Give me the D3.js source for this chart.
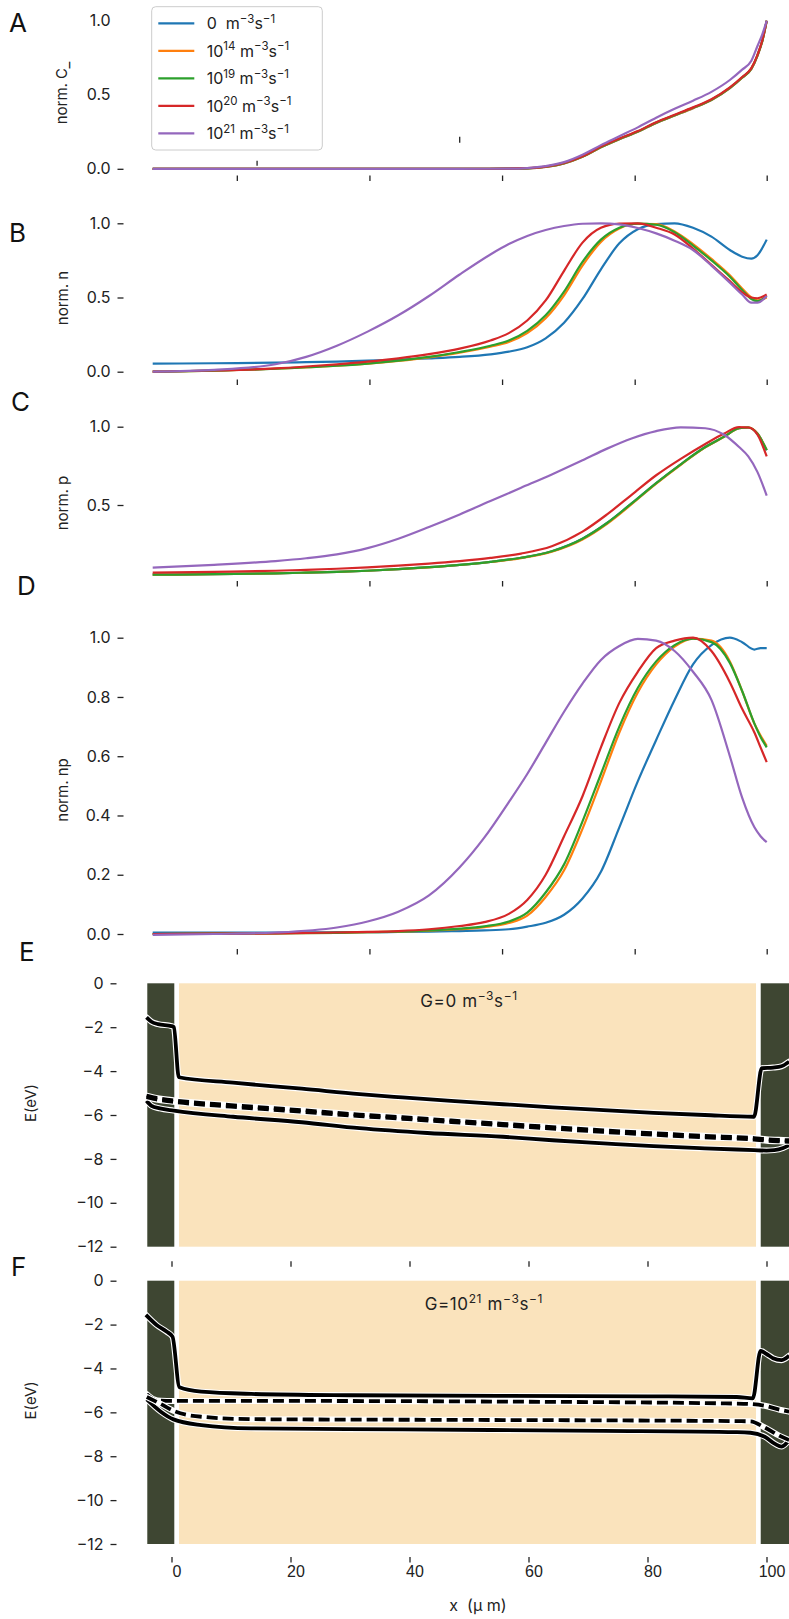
<!doctype html>
<html lang="en">
<head>
<meta charset="utf-8">
<title>normalised densities and band diagrams</title>
<script src="https://cdn.jsdelivr.net/npm/d3@7"></script>
<style>
    body { margin: 0; background: #fff; }
    svg { display: block; font-family: Inter, "DejaVu Sans", sans-serif; }
</style>
</head>
<body>
<svg></svg>
<script>
var width = 789;
var height = 1619;

var colors = ["#1f77b4", "#ff7f0e", "#2ca02c", "#d62728", "#9467bd"];
var genExponents = ["", "14", "19", "20", "21"];

// panel A: normalised C_
var xA = [0, 50, 58, 61, 64, 67, 70, 73, 76, 79, 82, 85, 88, 91, 94, 96, 97.5, 98.5, 99.3, 100];
var a0  = [0, 0, 0.001, 0.003, 0.013, 0.037, 0.082, 0.145, 0.2, 0.25, 0.31, 0.36, 0.41, 0.465, 0.545, 0.615, 0.675, 0.765, 0.865, 1.0];
var a14 = [0, 0, 0.001, 0.003, 0.013, 0.037, 0.082, 0.145, 0.2, 0.25, 0.31, 0.36, 0.41, 0.465, 0.545, 0.615, 0.675, 0.765, 0.865, 1.0];
var a19 = [0, 0, 0.001, 0.003, 0.014, 0.038, 0.083, 0.147, 0.202, 0.252, 0.312, 0.362, 0.412, 0.467, 0.547, 0.617, 0.677, 0.767, 0.867, 1.0];
var a20 = [0, 0, 0.001, 0.004, 0.015, 0.04, 0.085, 0.15, 0.205, 0.255, 0.315, 0.365, 0.415, 0.47, 0.55, 0.62, 0.68, 0.77, 0.87, 1.0];
var a21 = [0, 0, 0.001, 0.005, 0.018, 0.045, 0.095, 0.16, 0.22, 0.28, 0.345, 0.405, 0.46, 0.52, 0.6, 0.67, 0.73, 0.83, 0.91, 1.0];

// panel B: normalised n
var xB = [0, 10, 20, 25, 30, 35, 40, 45, 50, 55, 58, 61, 64, 67, 70, 73, 76, 79, 82, 85, 88, 91, 94, 96, 97.5, 98.5, 100];
var b0  = [0.054, 0.057, 0.061, 0.064, 0.068, 0.074, 0.082, 0.09, 0.1, 0.117, 0.135, 0.165, 0.225, 0.33, 0.49, 0.69, 0.865, 0.96, 0.995, 1.0, 0.97, 0.91, 0.82, 0.775, 0.762, 0.785, 0.89];
var b14 = [0, 0.007, 0.02, 0.029, 0.04, 0.054, 0.073, 0.097, 0.128, 0.168, 0.2, 0.26, 0.36, 0.515, 0.715, 0.875, 0.965, 0.997, 0.995, 0.945, 0.86, 0.76, 0.65, 0.56, 0.5, 0.48, 0.5];
var b19 = [0, 0.007, 0.02, 0.03, 0.04, 0.055, 0.075, 0.1, 0.133, 0.175, 0.21, 0.275, 0.38, 0.54, 0.74, 0.89, 0.97, 0.998, 0.99, 0.94, 0.85, 0.75, 0.64, 0.55, 0.49, 0.475, 0.51];
var b20 = [0, 0.008, 0.022, 0.035, 0.05, 0.068, 0.09, 0.118, 0.155, 0.21, 0.26, 0.345, 0.48, 0.68, 0.87, 0.97, 0.998, 1.0, 0.97, 0.925, 0.83, 0.72, 0.61, 0.535, 0.5, 0.495, 0.52];
var b21 = [0, 0.012, 0.05, 0.1, 0.175, 0.27, 0.38, 0.51, 0.655, 0.79, 0.86, 0.915, 0.955, 0.982, 0.997, 1.0, 0.993, 0.968, 0.932, 0.883, 0.82, 0.715, 0.6, 0.52, 0.465, 0.465, 0.51];

// panel C: normalised p
var xC = [0, 10, 20, 25, 30, 35, 40, 45, 50, 55, 60, 65, 70, 74, 78, 82, 86, 90, 93, 95.5, 97, 98.5, 100];
var c0  = [0.055, 0.058, 0.064, 0.068, 0.073, 0.08, 0.09, 0.103, 0.118, 0.137, 0.163, 0.205, 0.285, 0.385, 0.51, 0.64, 0.76, 0.87, 0.935, 0.99, 0.995, 0.955, 0.85];
var c14 = [0.055, 0.058, 0.064, 0.068, 0.073, 0.08, 0.09, 0.102, 0.117, 0.136, 0.161, 0.202, 0.28, 0.38, 0.505, 0.636, 0.757, 0.868, 0.934, 0.99, 0.996, 0.957, 0.852];
var c19 = [0.055, 0.058, 0.064, 0.068, 0.073, 0.08, 0.09, 0.103, 0.118, 0.137, 0.163, 0.205, 0.285, 0.385, 0.51, 0.64, 0.76, 0.87, 0.935, 0.99, 0.995, 0.955, 0.85];
var c20 = [0.068, 0.073, 0.08, 0.086, 0.093, 0.102, 0.113, 0.126, 0.142, 0.162, 0.19, 0.237, 0.33, 0.44, 0.565, 0.69, 0.795, 0.89, 0.955, 0.997, 0.995, 0.95, 0.81];
var c21 = [0.1, 0.118, 0.142, 0.16, 0.185, 0.225, 0.285, 0.36, 0.44, 0.525, 0.61, 0.695, 0.785, 0.86, 0.925, 0.972, 0.996, 0.99, 0.95, 0.87, 0.81, 0.71, 0.56];

// panel D: normalised np
var xD = [0, 10, 20, 30, 35, 40, 45, 50, 54, 58, 61, 64, 67, 70, 73, 76, 79, 82, 85, 88, 91, 94, 96, 98, 99, 100];
var d0  = [0.005, 0.005, 0.005, 0.006, 0.006, 0.007, 0.008, 0.01, 0.012, 0.016, 0.025, 0.038, 0.065, 0.12, 0.21, 0.36, 0.515, 0.655, 0.79, 0.91, 0.975, 1.0, 0.985, 0.96, 0.965, 0.965];
var d14 = [0, 0.001, 0.002, 0.004, 0.006, 0.008, 0.011, 0.016, 0.023, 0.037, 0.062, 0.125, 0.215, 0.355, 0.515, 0.68, 0.815, 0.91, 0.97, 0.997, 0.99, 0.92, 0.82, 0.71, 0.67, 0.635];
var d19 = [0, 0.001, 0.002, 0.004, 0.006, 0.008, 0.012, 0.018, 0.026, 0.042, 0.072, 0.14, 0.235, 0.38, 0.54, 0.7, 0.83, 0.92, 0.975, 0.997, 0.985, 0.915, 0.82, 0.71, 0.665, 0.63];
var d20 = [0, 0.001, 0.002, 0.005, 0.007, 0.01, 0.016, 0.027, 0.04, 0.068, 0.115, 0.2, 0.33, 0.465, 0.63, 0.78, 0.885, 0.965, 0.99, 1.0, 0.955, 0.85, 0.76, 0.68, 0.63, 0.58];
var d21 = [-0.003, 0, 0.005, 0.022, 0.042, 0.075, 0.13, 0.225, 0.325, 0.445, 0.54, 0.645, 0.75, 0.845, 0.925, 0.972, 0.996, 0.99, 0.955, 0.885, 0.79, 0.6, 0.46, 0.36, 0.33, 0.31];

// x ticks of panels A-D (unlabelled)
var xTicksAD = [13.7, 35.3, 56.9, 78.5, 100];
// two stray tick marks inside panel A: [x, yBottom, yTop]
var strayA = [[17.0, 0.02, 0.054], [50.0, 0.176, 0.216]];

// panels E/F: layers [start, end] in um
var layerStart = [-4.07, 1.26, 99.03];
var layerEnd = [0.47, 98.24, 106];
var layerColor = ["#3e4632", "#fae3bc", "#3e4632"];

// panel E: G = 0
var eEcX = [-4.2, -3.36, -2.25, 0, 0.39, 1.23, 10.35, 21.9, 31.6, 38.8, 47, 55.7, 64, 72.6, 81, 89.6, 97.9, 99.2, 101.1, 102.5, 103.8];
var eEc  = [-1.55, -1.75, -1.86, -1.95, -2.0, -4.28, -4.53, -4.8, -5.05, -5.2, -5.36, -5.51, -5.65, -5.78, -5.9, -6.0, -6.08, -3.87, -3.84, -3.78, -3.57];
var eEvX = [-4.2, -3.36, -1.97, 0.39, 10.35, 21.9, 31.6, 43, 55.7, 64, 72.6, 81, 89.6, 97.9, 100, 101.3, 102.8, 103.8];
var eEv  = [-5.35, -5.58, -5.7, -5.8, -6.08, -6.33, -6.6, -6.82, -6.99, -7.15, -7.29, -7.42, -7.52, -7.6, -7.62, -7.6, -7.5, -7.37];
var eFX  = [-4.2, -3, 0, 10, 21.9, 31.6, 38.8, 47, 55.7, 64, 72.6, 81, 89.6, 97.9, 100, 102, 103.8];
var eEfn = [-5.12, -5.2, -5.32, -5.55, -5.78, -5.98, -6.1, -6.25, -6.4, -6.55, -6.7, -6.83, -6.95, -7.05, -7.1, -7.13, -7.15];
var eEfp = [-5.19, -5.27, -5.39, -5.62, -5.85, -6.05, -6.17, -6.32, -6.47, -6.62, -6.77, -6.9, -7.02, -7.12, -7.17, -7.2, -7.22];

// panel F: G = 1e21
var fEcX = [-4.3, -2.5, -0.84, 0.17, 1.34, 5.0, 13.4, 30, 55, 80, 95, 97.7, 99.0, 100, 101.1, 102.5, 103.8];
var fEc  = [-1.56, -2.02, -2.32, -2.55, -4.86, -5.06, -5.16, -5.22, -5.25, -5.27, -5.3, -5.36, -3.2, -3.34, -3.53, -3.62, -3.42];
var fEvX = [-4.15, -1.8, 0.33, 5.0, 13.4, 38.8, 72.6, 95, 97.3, 99.7, 101.5, 102.5, 103.8];
var fEv  = [-5.41, -5.97, -6.32, -6.58, -6.73, -6.78, -6.84, -6.9, -6.93, -7.11, -7.45, -7.56, -7.26];
var fEfnX = [-4.15, -3, -1.8, 0.33, 20, 55.7, 95, 97.3, 99.7, 102.2, 103.8];
var fEfn  = [-5.17, -5.4, -5.47, -5.48, -5.48, -5.51, -5.6, -5.62, -5.7, -5.88, -5.97];
var fEfpX = [-4.15, -1.8, 0.33, 5, 13.4, 55.7, 95, 97.3, 99.7, 102.2, 103.8];
var fEfp  = [-5.3, -5.62, -5.93, -6.2, -6.31, -6.35, -6.4, -6.41, -6.69, -7.07, -7.26];

var svg = d3.select('svg').attr('width', width).attr('height', height);

var xAD = d3.scaleLinear().domain([0, 100]).range([152.7, 766.7]);
var xEF = d3.scaleLinear().domain([0, 100]).range([171.5, 766.5]);

function zip(xs, ys) {
    return xs.map(function (x, i) { return [x, ys[i]]; });
}

function yAxis(y, ticks, fmt, axisX, padding) {
    var g = svg.append('g')
        .attr('transform', 'translate(' + axisX + ',0)')
        .call(d3.axisLeft(y).tickValues(ticks).tickFormat(fmt).tickSize(6).tickPadding(padding));
    g.select('.domain').remove();
    g.selectAll('line').attr('stroke', '#222').attr('stroke-width', 1.3);
    g.selectAll('text').attr('font-size', 16).attr('fill', '#222').attr('font-family', 'Inter');
    return g;
}

function xAxis(x, ticks, yPos) {
    var g = svg.append('g')
        .attr('transform', 'translate(0,' + yPos + ')')
        .call(d3.axisBottom(x).tickValues(ticks).tickSize(5.5).tickFormat(''));
    g.select('.domain').remove();
    g.selectAll('line').attr('stroke', '#222').attr('stroke-width', 1.3);
    return g;
}

function yLabel(txt, cx, cy) {
    return svg.append('text')
        .attr('transform', 'translate(' + cx + ',' + cy + ') rotate(-90)')
        .attr('text-anchor', 'middle')
        .attr('font-size', 15)
        .attr('fill', '#222')
        .text(txt);
}

function panelLetter(txt, x, y) {
    svg.append('text').attr('x', x).attr('y', y)
        .attr('font-size', 26).attr('fill', '#111').text(txt);
}

function drawSeries(xs, seriesList, y) {
    var line = d3.line()
        .x(function (d) { return xAD(d[0]); })
        .y(function (d) { return y(d[1]); })
        .curve(d3.curveMonotoneX);
    seriesList.forEach(function (s, i) {
        svg.append('path')
            .datum(zip(xs, s))
            .attr('d', line)
            .attr('fill', 'none')
            .attr('stroke', colors[i])
            .attr('stroke-width', 2.2)
            .attr('stroke-linejoin', 'round');
    });
}

// ---------- panel A ----------
var yA = d3.scaleLinear().domain([0, 1]).range([168.8, 20.8]);
var gA = yAxis(yA, [0, 0.5, 1], d3.format('.1f'), 123.5, 7);
gA.selectAll('.tick line').filter(function (d) { return d !== 0; }).remove();
xAxis(xAD, xTicksAD, 175.5);
svg.selectAll('line.stray')
    .data(strayA)
    .enter()
    .append('line')
    .attr('class', 'stray')
    .attr('x1', function (d) { return xAD(d[0]); })
    .attr('x2', function (d) { return xAD(d[0]); })
    .attr('y1', function (d) { return yA(d[1]); })
    .attr('y2', function (d) { return yA(d[2]); })
    .attr('stroke', '#222').attr('stroke-width', 1.3);
drawSeries(xA, [a0, a14, a19, a20, a21], yA);
var labA = yLabel('norm. C', 67, 93);
labA.append('tspan').attr('dy', 2).text('_');
panelLetter('A', 9, 32);

// legend
var legend = svg.append('g').attr('transform', 'translate(151.7,6.7)');
legend.append('rect')
    .attr('width', 170.6).attr('height', 143.3)
    .attr('rx', 4)
    .attr('fill', 'white').attr('fill-opacity', 0.85)
    .attr('stroke', '#cccccc').attr('stroke-width', 1);
genExponents.forEach(function (e, i) {
    var ly = 16.6 + i * 27.5;
    legend.append('line')
        .attr('x1', 6.6).attr('x2', 42.6)
        .attr('y1', ly).attr('y2', ly)
        .attr('stroke', colors[i]).attr('stroke-width', 2.2);
    var t = legend.append('text')
        .attr('x', 55).attr('y', ly + 6)
        .attr('font-size', 16).attr('fill', '#222');
    if (e === '') {
        t.append('tspan').text('0\u00a0 m');
    } else {
        t.append('tspan').text('10');
        t.append('tspan').attr('font-size', 11.5).attr('dy', -6.5).text(e);
        t.append('tspan').attr('dy', 6.5).text(' m');
    }
    t.append('tspan').attr('font-size', 11.5).attr('dy', -6.5).text('\u22123');
    t.append('tspan').attr('dy', 6.5).text('s');
    t.append('tspan').attr('font-size', 11.5).attr('dy', -6.5).text('\u22121');
});

// ---------- panel B ----------
var yB = d3.scaleLinear().domain([0, 1]).range([371.7, 223.3]);
yAxis(yB, [0, 0.5, 1], d3.format('.1f'), 123.5, 7);
xAxis(xAD, xTicksAD, 379.5);
drawSeries(xB, [b0, b14, b19, b20, b21], yB);
yLabel('norm. n', 68, 298);
panelLetter('B', 9, 242);

// ---------- panel C ----------
var yC = d3.scaleLinear().domain([0, 1]).range([583.3, 426.7]);
yAxis(yC, [0.5, 1], d3.format('.1f'), 123.5, 7);
xAxis(xAD, xTicksAD, 581);
drawSeries(xC, [c0, c14, c19, c20, c21], yC);
yLabel('norm. p', 68, 503);
panelLetter('C', 11, 411);

// ---------- panel D ----------
var yD = d3.scaleLinear().domain([0, 1]).range([934, 637.7]);
yAxis(yD, [0, 0.2, 0.4, 0.6, 0.8, 1], d3.format('.1f'), 123.5, 7);
xAxis(xAD, xTicksAD, 949);
drawSeries(xD, [d0, d14, d19, d20, d21], yD);
yLabel('norm. np', 68, 790);
panelLetter('D', 17, 595);

// ---------- panels E / F ----------
function bandPanel(y0, yEnd, bands, note, letter, letterXY, xTickY, labelled) {
    var y = d3.scaleLinear().domain([0, -12]).range([y0, yEnd]);
    svg.selectAll(null)
        .data(layerStart)
        .enter()
        .append('rect')
        .attr('x', function (d) { return xEF(d); })
        .attr('width', function (d, i) { return xEF(layerEnd[i]) - xEF(d); })
        .attr('y', y(0))
        .attr('height', y(-12) - y(0))
        .attr('fill', function (d, i) { return layerColor[i]; });

    var line = d3.line()
        .x(function (d) { return xEF(d[0]); })
        .y(function (d) { return y(d[1]); })
        .curve(d3.curveMonotoneX);
    // each group: white halos first, then the black lines
    bands.forEach(function (group) {
        group.forEach(function (b) {
            svg.append('path').datum(zip(b.x, b.y)).attr('d', line)
                .attr('fill', 'none').attr('stroke', 'white')
                .attr('stroke-width', 6).attr('stroke-linejoin', 'round')
                .attr('stroke-linecap', 'round');
        });
        group.forEach(function (b) {
            svg.append('path').datum(zip(b.x, b.y)).attr('d', line)
                .attr('fill', 'none').attr('stroke', 'black')
                .attr('stroke-width', 3.8).attr('stroke-linejoin', 'round')
                .attr('stroke-dasharray', b.dashed ? '11,5' : null);
        });
    });

    yAxis(y, [0, -2, -4, -6, -8, -10, -12], d3.format('d'), 116.5, 7);
    yLabel('E(eV)', 36, (y0 + yEnd) / 2 - 12);

    var gx = svg.append('g')
        .attr('transform', 'translate(0,' + xTickY + ')')
        .call(d3.axisBottom(xEF).tickValues([0, 20, 40, 60, 80, 100]).tickSize(5.5)
            .tickFormat(labelled ? d3.format('d') : ''));
    gx.select('.domain').remove();
    gx.selectAll('line').attr('stroke', '#222').attr('stroke-width', 1.3);
    gx.selectAll('text').attr('font-size', 16).attr('fill', '#222')
        .attr('dx', 5).attr('dy', 11);

    var t = svg.append('text')
        .attr('x', xEF(note.x)).attr('y', y(note.y))
        .attr('text-anchor', 'middle').attr('font-size', 17).attr('fill', '#222')
        .attr('letter-spacing', 0.6);
    t.append('tspan').text(note.pre);
    if (note.exp) {
        t.append('tspan').attr('font-size', 12).attr('dy', -7).text(note.exp);
        t.append('tspan').attr('dy', 7).text(' m');
    }
    t.append('tspan').attr('font-size', 12).attr('dy', -7).text('\u22123');
    t.append('tspan').attr('dy', 7).text('s');
    t.append('tspan').attr('font-size', 12).attr('dy', -7).text('\u22121');

    panelLetter(letter, letterXY[0], letterXY[1]);
}

bandPanel(983.3, 1246.7, [
    [{ x: eEcX, y: eEc }],
    [{ x: eEvX, y: eEv }],
    [{ x: eFX, y: eEfn, dashed: true }, { x: eFX, y: eEfp, dashed: true }]
], { x: 50, y: -1.08, pre: 'G=0 m' }, 'E', [19, 961], 1261.3, false);

bandPanel(1280.7, 1544, [
    [{ x: fEcX, y: fEc }],
    [{ x: fEvX, y: fEv }],
    [{ x: fEfnX, y: fEfn, dashed: true }],
    [{ x: fEfpX, y: fEfp, dashed: true }]
], { x: 52.5, y: -1.35, pre: 'G=10', exp: '21' }, 'F', [11, 1276], 1557, true);

svg.append('text')
    .attr('x', 478).attr('y', 1611)
    .attr('text-anchor', 'middle')
    .attr('font-size', 16).attr('fill', '#222')
    .attr('xml:space', 'preserve')
    .text('x  (\u03bc m)');
</script>
</body>
</html>
